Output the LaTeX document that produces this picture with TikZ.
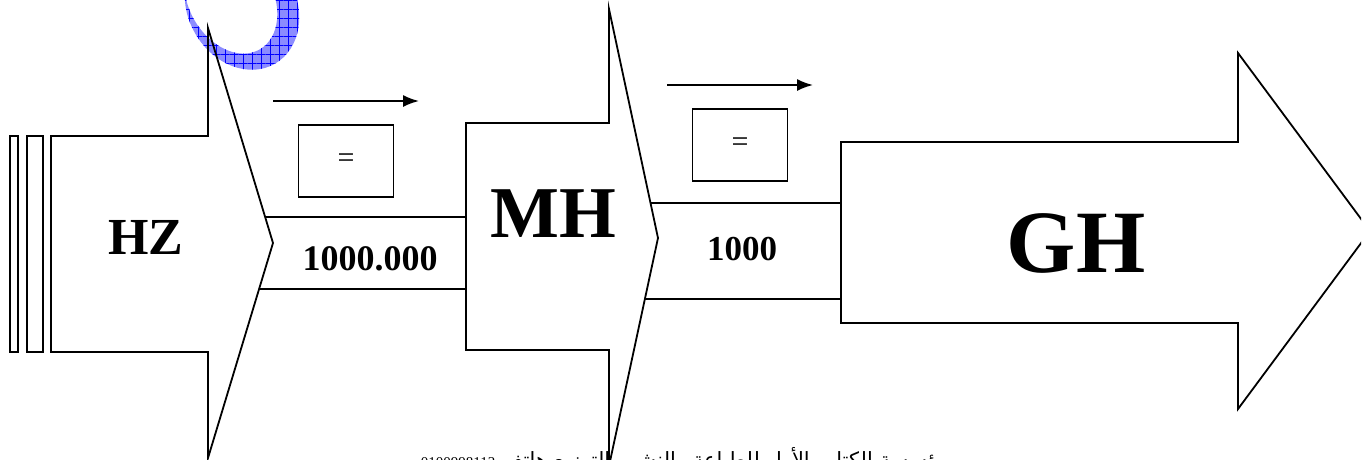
\documentclass[tikz,border=0pt]{standalone}
\usepackage{fontspec}
\setmainfont{Liberation Serif}
\newfontfamily\arabicfont[Script=Arabic]{DejaVu Sans}
\TeXXeTstate=1
\usetikzlibrary{patterns.meta,arrows.meta}
\tikzset{
  blockarrow/.style={draw=black, fill=white, line width=1.8pt, line join=miter},
  band/.style={draw=black, fill=white, line width=1.8pt},
  bar/.style={draw=black, fill=white, line width=1.8pt},
  eqbox/.style={draw=black, fill=white, line width=1.8pt, minimum width=95pt, minimum height=72pt, inner sep=0pt, font=\fontsize{30}{30}\selectfont},
  biglbl/.style={inner sep=0pt, font=\bfseries},
  topline/.style={line width=1.8pt, -{Latex[length=16pt,width=12pt]}},
  ring/.style={even odd rule}
}
\begin{document}
\begin{tikzpicture}[x=1pt,y=-1pt]
\useasboundingbox (0,0) rectangle (1366,459);
\clip (0,0) rectangle (1361,459);
% band behind MH arrow head
\draw[band] (620,203) rectangle (841,299);
% GH arrow
\draw[blockarrow] (841,142) -- (1238,142) -- (1238,53) -- (1370,231) -- (1238,409) -- (1238,323) -- (841,323) -- cycle;
% band behind HZ arrow head
\draw[band] (240,217) rectangle (466,289);
% MH arrow
\draw[blockarrow] (466,123) -- (609,123) -- (609,9) -- (658,238) -- (609,466) -- (609,350) -- (466,350) -- cycle;
% HZ arrow (fill)
\path[fill=white] (51,136) -- (208,136) -- (208,28) -- (273,243) -- (208,458) -- (208,352) -- (51,352) -- cycle;
% blue ring
\begin{scope}[rotate around={30:(244,10)}]
\path[ring, fill=blue!45!white] (244,6) ellipse [x radius=54, y radius=66] (238,-6) ellipse [x radius=42, y radius=58];
\path[ring, pattern={Lines[angle=0,distance=9pt,line width=0.7pt]}, pattern color=blue] (244,6) ellipse [x radius=54, y radius=66] (238,-6) ellipse [x radius=42, y radius=58];
\path[ring, pattern={Lines[angle=90,distance=9pt,line width=0.7pt]}, pattern color=blue] (244,6) ellipse [x radius=54, y radius=66] (238,-6) ellipse [x radius=42, y radius=58];
\end{scope}
% HZ arrow (outline)
\draw[blockarrow, fill=none] (51,136) -- (208,136) -- (208,28) -- (273,243) -- (208,458) -- (208,352) -- (51,352) -- cycle;
% left bars
\draw[bar] (10,136) rectangle (18,352);
\draw[bar] (27,136) rectangle (43,352);
% labels
\node[biglbl, font=\fontsize{52}{52}\selectfont\bfseries] (hz) at (146,237) {HZ};
\node[biglbl, font=\fontsize{73}{73}\selectfont\bfseries] (mh) at (553,214) {MH};
\node[biglbl, font=\fontsize{89}{89}\selectfont\bfseries] (gh) at (1076,243) {GH};
\node[biglbl, font=\fontsize{36}{36}\selectfont\bfseries] (v1) at (370,259) {1000.000};
\node[biglbl, font=\fontsize{35}{35}\selectfont\bfseries] (v2) at (742,249) {1000};
% equal boxes
\node[eqbox] (box1) at (346,161) {=};
\node[eqbox] (box2) at (740,145) {=};
% arrows above boxes
\coordinate (a1s) at (273,101);
\coordinate (a1e) at (419,101);
\coordinate (a2s) at (667,85);
\coordinate (a2e) at (813,85);
\draw[topline] (a1s) -- (a1e);
\draw[topline] (a2s) -- (a2e);
% bottom footer text (cut off by the page edge)
\node[anchor=base, inner sep=0pt, font=\fontsize{21}{21}\selectfont] (foot) at (685,467) {\arabicfont\beginR مؤسسة الكتاب الأول للطباعة والنشر والتوزيع هاتف \beginL{\rmfamily\fontsize{15}{15}\selectfont 0100998113}\endL\endR};
\end{tikzpicture}
\end{document}
